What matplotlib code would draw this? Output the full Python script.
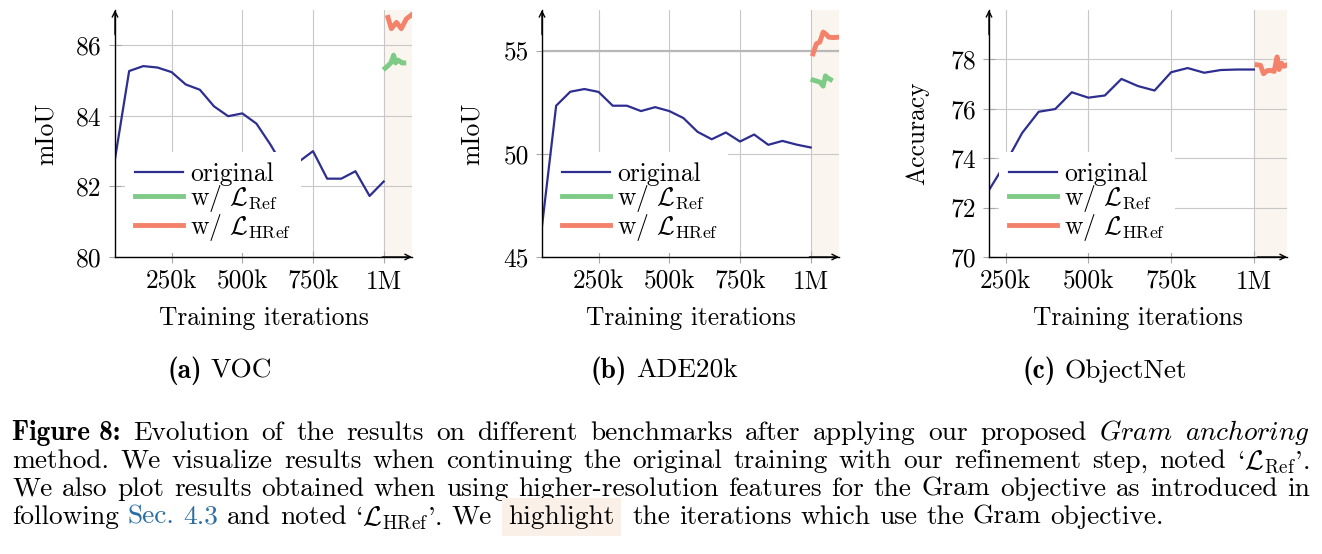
import matplotlib
matplotlib.use("Agg")
import matplotlib.pyplot as plt

plt.rcParams['font.family'] = ['cmr10', 'DejaVu Serif']
plt.rcParams['mathtext.fontset'] = 'cm'
plt.rcParams['axes.unicode_minus'] = False
plt.rcParams['axes.formatter.use_mathtext'] = True

# ---- data (x in thousands of iterations) ----
voc_x = [50, 100, 150, 200, 250, 300, 350, 400, 450, 500, 550, 600, 650, 700,
         750, 800, 850, 900, 950, 1000]
voc_orig = [82.78, 85.27, 85.41, 85.37, 85.24, 84.89, 84.74, 84.27, 83.99, 84.07,
            83.78, 83.18, 82.5, 82.7, 83.0, 82.22, 82.22, 82.43, 81.73, 82.14]
voc_ref_x = [1005, 1015, 1025, 1035, 1042, 1050, 1057, 1064, 1071]
voc_ref = [85.35, 85.42, 85.5, 85.72, 85.5, 85.58, 85.55, 85.5, 85.5]
voc_href_x = [1015, 1027, 1045, 1062, 1080, 1098]
voc_href = [86.79, 86.47, 86.65, 86.47, 86.75, 86.86]

ade_x = voc_x
ade_orig = [46.5, 52.35, 53.03, 53.16, 53.02, 52.35, 52.35, 52.09, 52.28, 52.09,
            51.75, 51.08, 50.72, 51.05, 50.61, 50.95, 50.45, 50.64, 50.46, 50.32]
ade_ref_x = [1008, 1020, 1032, 1044, 1052, 1060, 1070]
ade_ref = [53.6, 53.55, 53.5, 53.3, 53.8, 53.7, 53.62]
ade_href_x = [1008, 1020, 1032, 1044, 1052, 1064, 1080, 1100]
ade_href = [54.87, 55.36, 55.44, 55.93, 55.85, 55.68, 55.66, 55.68]

obj_x = [200, 250, 300, 350, 400, 450, 500, 550, 600, 650, 700, 750, 800, 850,
         900, 950, 1000]
obj_orig = [72.71, 73.8, 75.02, 75.88, 75.99, 76.67, 76.45, 76.54, 77.21, 76.92,
            76.74, 77.48, 77.65, 77.46, 77.57, 77.59, 77.59]
obj_ref_x = []
obj_ref = []
obj_href_x = [1010, 1020, 1029, 1041, 1051, 1061, 1070, 1076, 1083, 1090, 1100]
obj_href = [77.78, 77.76, 77.42, 77.55, 77.55, 77.51, 78.1, 77.59, 77.85, 77.72, 77.78]

xtick_pos = [250, 500, 750, 1000]
xtick_lab = ['250k', '500k', '750k', '1M']

BLUE = '#2D2E8F'
GREEN = '#7DCB86'
RED = '#F4826B'
SHADE = '#FBF5F0'
GRID = '#c8c8c8'
FS = 18.4      # axes text
FS_C = 19.7    # caption text

W, H = 1322, 554
fig = plt.figure(figsize=(W / 100, H / 100), dpi=100)


def panel(left_px, width_px, x, yo, xr, yr, xh, yh, xlim, ylim, yticks, ylabel, ylab_x):
    ax = fig.add_axes([left_px / W, (H - 257) / H, width_px / W, 247 / H])
    ax.axvspan(1000, xlim[1], color=SHADE, lw=0, zorder=0)
    ax.set_axisbelow(True)
    ax.grid(True, color=GRID, lw=0.8)
    ax.plot(x, yo, color=BLUE, lw=1.6, label='original')
    ax.plot(xr, yr, color=GREEN, lw=3.5, label=r'w/ $\mathcal{L}_{\mathrm{Ref}}$')
    ax.plot(xh, yh, color=RED, lw=3.5, label=r'w/ $\mathcal{L}_{\mathrm{HRef}}$')
    ax.set_xlim(*xlim)
    ax.set_ylim(*ylim)
    ax.set_xticks(xtick_pos)
    ax.set_xticklabels(xtick_lab)
    ax.set_yticks(yticks)
    ax.set_yticklabels([str(v) for v in yticks])
    ax.tick_params(direction='inout', length=9, width=0.8, color='#a8a8a8',
                   labelsize=FS, pad=5)
    for s in ['top', 'right']:
        ax.spines[s].set_visible(False)
    for s in ['left', 'bottom']:
        ax.spines[s].set_linewidth(1.0)
    ax.annotate('', xy=(0, 1.0), xytext=(0, 0.9), xycoords='axes fraction',
                arrowprops=dict(arrowstyle='->', color='k', lw=1.0,
                                shrinkA=0, shrinkB=0))
    ax.annotate('', xy=(1.0, 0), xytext=(0.9, 0), xycoords='axes fraction',
                arrowprops=dict(arrowstyle='->', color='k', lw=1.0,
                                shrinkA=0, shrinkB=0))
    ax.set_xlabel('Training iterations', fontsize=FS, va='center')
    ax.xaxis.set_label_coords(0.5, -0.247)
    ax.set_ylabel(ylabel, fontsize=FS, va='center')
    ax.yaxis.set_label_coords(ylab_x, 0.5)
    ax.legend(loc='lower left', bbox_to_anchor=(0.034, 0.016), borderaxespad=0,
              frameon=True, facecolor='white', edgecolor='none', framealpha=1,
              fancybox=False, handlelength=1.85, handletextpad=0.28,
              labelspacing=-0.1, borderpad=0.4, fontsize=FS)
    return ax


panel(115, 297, voc_x, voc_orig, voc_ref_x, voc_ref, voc_href_x, voc_href,
      (50, 1100), (80, 87), [80, 82, 84, 86], 'mIoU', -0.232)
ax_b = panel(542, 297, ade_x, ade_orig, ade_ref_x, ade_ref, ade_href_x, ade_href,
             (50, 1100), (45, 57), [45, 50, 55], 'mIoU', -0.236)
ax_b.axhline(55, color='#b8b8b8', lw=1.6, zorder=0.6)
panel(989, 298, obj_x, obj_orig, obj_ref_x, obj_ref, obj_href_x, obj_href,
      (200, 1100), (70, 80), [70, 72, 74, 76, 78], 'Accuracy', -0.242)

# ---- captions ----
RM = dict(family=['cmr10', 'DejaVu Serif'], size=FS_C)
BF = dict(family=['cmb10', 'DejaVu Serif'], size=FS_C)
LINK = dict(RM, color='#2B6EA3')
HL = dict(RM, bbox=dict(boxstyle='square,pad=0.25', fc='#FBF0E8', ec='none'))
SPACE = 8.8

fig.canvas.draw()
renderer = fig.canvas.get_renderer()


def put_row(tokens, base_y, x_left=None, x_right=None, center=None, gaps=None):
    texts = [fig.text(0, 1 - base_y / H, s, ha='left', va='baseline', **kw)
             for s, kw in tokens]
    widths = [t.get_window_extent(renderer).width for t in texts]
    n = len(texts)
    if gaps is None:
        if x_right is not None:
            g = (x_right - x_left - sum(widths)) / (n - 1)
        else:
            g = SPACE
        gaps = [g] * (n - 1)
    total = sum(widths) + sum(gaps)
    x = x_left if center is None else center - total / 2
    for i, t in enumerate(texts):
        t.set_x(x / W)
        x += widths[i] + (gaps[i] if i < n - 1 else 0)


put_row([('(a)', BF), ('VOC', RM)], 378, center=220)
put_row([('(b)', BF), ('ADE20k', RM)], 378, center=664)
put_row([('(c)', BF), ('ObjectNet', RM)], 378, center=1105)

line1 = [('Figure 8:', BF)] + [(w, RM) for w in
         'Evolution of the results on different benchmarks after applying our proposed'.split()] + \
        [(r'$\mathit{Gram}$', RM), (r'$\mathit{anchoring}$', RM)]
line2 = [(w, RM) for w in
         'method. We visualize results when continuing the original training with our refinement step, noted'.split()] + \
        [(r"`$\mathcal{L}_{\mathrm{Ref}}$'.", RM)]
line3 = [(w, RM) for w in
         'We also plot results obtained when using higher-resolution features for the Gram objective as introduced in'.split()]
line4 = [('following', RM), ('Sec.', LINK), ('4.3', LINK), ('and', RM), ('noted', RM),
         (r"`$\mathcal{L}_{\mathrm{HRef}}$'.", RM), ('We', RM), ('highlight', HL)] + \
        [(w, RM) for w in 'the iterations which use the Gram objective.'.split()]

put_row(line1, 440, x_left=12, x_right=1310)
put_row(line2, 468, x_left=12, x_right=1310)
put_row(line3, 496, x_left=12, x_right=1310)
g4 = [SPACE] * (len(line4) - 1)
g4[6] = 17
g4[7] = 18
put_row(line4, 524, x_left=12, gaps=g4)

fig.savefig('out.png', dpi=100)
